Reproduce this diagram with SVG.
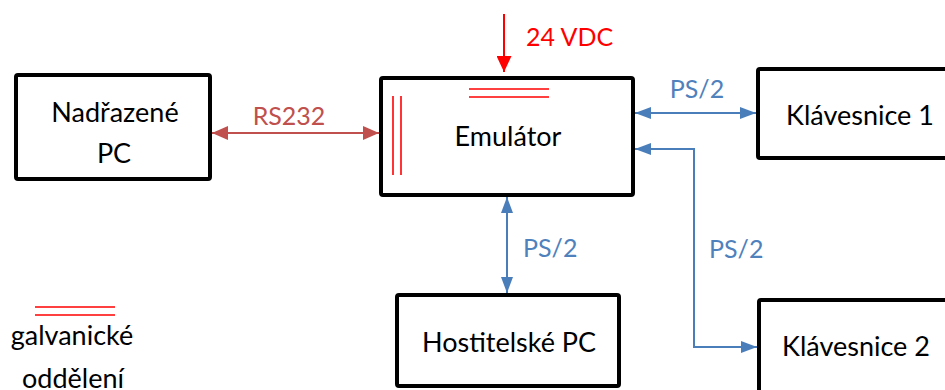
<svg xmlns="http://www.w3.org/2000/svg" width="945" height="390" viewBox="0 0 945 390">
  <style>
    .box { fill: #ffffff; stroke: #000000; stroke-width: 4; }
    .lbl { font-family: Lato, "Noto Sans", "Liberation Sans", sans-serif; font-size: 27px; fill: #000000; }
    .blue-t { font-family: Lato, "Noto Sans", "Liberation Sans", sans-serif; font-size: 25px; fill: #4F81BD; }
    .red-t { font-family: Lato, "Noto Sans", "Liberation Sans", sans-serif; font-size: 25px; fill: #C0504D; }
    .pwr-t { font-family: Lato, "Noto Sans", "Liberation Sans", sans-serif; font-size: 25px; fill: #FF0000; }
    .iso { stroke: #FF0000; stroke-width: 1.6; fill: none; }
    .blue { stroke: #4A7EBB; stroke-width: 2; fill: none; }
    .rs { stroke: #C0504D; stroke-width: 2; fill: none; }
    .pwr { stroke: #FF0000; stroke-width: 2; fill: none; }
  </style>
  <defs>
    <marker id="ahBlue" markerUnits="userSpaceOnUse" markerWidth="16" markerHeight="12" refX="16" refY="6" orient="auto-start-reverse">
      <path d="M0,0 L16,6 L0,12 z" fill="#4A7EBB"/>
    </marker>
    <marker id="ahRs" markerUnits="userSpaceOnUse" markerWidth="16" markerHeight="14" refX="16" refY="7" orient="auto-start-reverse">
      <path d="M0,0 L16,7 L0,14 z" fill="#C0504D"/>
    </marker>
    <marker id="ahPwr" markerUnits="userSpaceOnUse" markerWidth="16" markerHeight="15" refX="16" refY="7.5" orient="auto">
      <path d="M0,0 L16,7.5 L0,15 z" fill="#FF0000"/>
    </marker>
  </defs>

  <g id="nadrazene-pc">
    <rect class="box" x="16" y="75" width="194" height="104" rx="2"/>
    <text class="lbl" x="115" y="122" text-anchor="middle">Nadřazené</text>
    <text class="lbl" x="114" y="163" text-anchor="middle">PC</text>
  </g>

  <g id="emulator">
    <rect class="box" x="381" y="78" width="252" height="117" rx="2"/>
    <text class="lbl" x="508" y="146" text-anchor="middle">Emulátor</text>
    <!-- isolation marks -->
    <line class="iso" x1="469" y1="89" x2="549" y2="89"/>
    <line class="iso" x1="469" y1="97" x2="549" y2="97"/>
    <line class="iso" x1="393" y1="96" x2="393" y2="175"/>
    <line class="iso" x1="401" y1="96" x2="401" y2="175"/>
  </g>

  <g id="klavesnice-1">
    <rect class="box" x="758" y="69" width="200" height="89" rx="2"/>
    <text class="lbl" x="786" y="125">Klávesnice 1</text>
  </g>

  <g id="klavesnice-2">
    <rect class="box" x="759" y="300" width="200" height="100" rx="2"/>
    <text class="lbl" x="782" y="356">Klávesnice 2</text>
  </g>

  <g id="hostitelske-pc">
    <rect class="box" x="397" y="295" width="222" height="91" rx="2"/>
    <text class="lbl" x="509" y="352" text-anchor="middle">Hostitelské PC</text>
  </g>

  <g id="legend">
    <line class="iso" x1="35" y1="307" x2="115" y2="307"/>
    <line class="iso" x1="35" y1="315" x2="115" y2="315"/>
    <text class="lbl" x="72" y="345" text-anchor="middle">galvanické</text>
    <text class="lbl" x="73" y="388" text-anchor="middle">oddělení</text>
  </g>

  <g id="connectors">
    <line class="rs" x1="212" y1="133" x2="379" y2="133" marker-start="url(#ahRs)" marker-end="url(#ahRs)"/>
    <text class="red-t" x="289" y="125" text-anchor="middle">RS232</text>

    <line class="pwr" x1="504" y1="14" x2="504" y2="72" marker-end="url(#ahPwr)"/>
    <text class="pwr-t" x="526" y="46">24 VDC</text>

    <line class="blue" x1="635" y1="113" x2="756" y2="113" marker-start="url(#ahBlue)" marker-end="url(#ahBlue)"/>
    <text class="blue-t" x="697" y="98" text-anchor="middle">PS/2</text>

    <line class="blue" x1="507" y1="197" x2="507" y2="293" marker-start="url(#ahBlue)" marker-end="url(#ahBlue)"/>
    <text class="blue-t" x="523" y="257">PS/2</text>

    <path class="blue" d="M635,149 H694 V347 H757" marker-start="url(#ahBlue)" marker-end="url(#ahBlue)"/>
    <text class="blue-t" x="709" y="258">PS/2</text>
  </g>
</svg>
